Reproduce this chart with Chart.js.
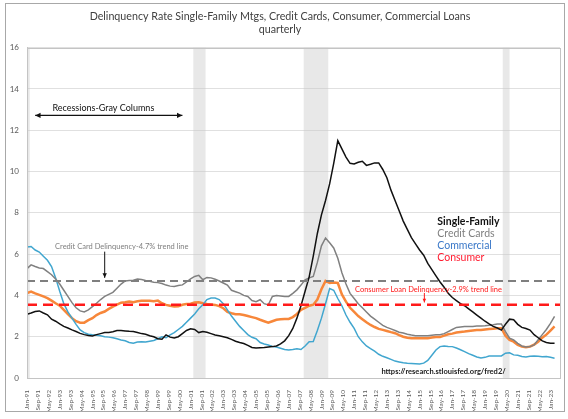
<!DOCTYPE html>
<html>
<head>
<meta charset="utf-8">
<script src="https://cdn.jsdelivr.net/npm/chart.js@4.4.0/dist/chart.umd.min.js"></script>
<style>
body { margin: 0; background: #fff; }
</style>
</head>
<body>
<canvas id="myChart" width="568" height="419"></canvas>
<script>
// LABELS DE L'AXE X (UN TOUS LES 8 MOIS, A PARTIR DE JAN-91)
var tickLabels = ["Jan-91", "Sep-91", "May-92", "Jan-93", "Sep-93", "May-94", "Jan-95", "Sep-95", "May-96",
    "Jan-97", "Sep-97", "May-98", "Jan-99", "Sep-99", "May-00", "Jan-01", "Sep-01", "May-02", "Jan-03",
    "Sep-03", "May-04", "Jan-05", "Sep-05", "May-06", "Jan-07", "Sep-07", "May-08", "Jan-09", "Sep-09",
    "May-10", "Jan-11", "Sep-11", "May-12", "Jan-13", "Sep-13", "May-14", "Jan-15", "Sep-15", "May-16",
    "Jan-17", "Sep-17", "May-18", "Jan-19", "Sep-19", "May-20", "Jan-21", "Sep-21", "May-22", "Jan-23"];

// SERIES TRIMESTRIELLES, Q1-1991 -> Q2-2023 (une ligne = une annee)
var singleFamily = [
    3.09, 3.15, 3.22, 3.25,
    3.15, 3.06, 2.85, 2.75,
    2.62, 2.5, 2.42, 2.33,
    2.25, 2.16, 2.1, 2.06,
    2.04, 2.1, 2.15, 2.2,
    2.2, 2.24, 2.3, 2.3,
    2.28, 2.26, 2.25, 2.2,
    2.15, 2.12, 2.05, 2.0,
    1.9, 1.88, 2.09, 1.98,
    1.94, 2.0, 2.15, 2.3,
    2.38, 2.35, 2.2, 2.25,
    2.22, 2.15, 2.08, 2.05,
    2.0, 1.95, 1.87, 1.78,
    1.72, 1.67, 1.58, 1.48,
    1.45, 1.47, 1.48, 1.5,
    1.52, 1.55, 1.65, 1.8,
    2.05, 2.4, 2.9, 3.5,
    4.2, 4.9, 5.9, 7.0,
    7.9, 8.6, 9.4, 10.4,
    11.5, 11.1, 10.7, 10.4,
    10.37, 10.45, 10.5, 10.3,
    10.35, 10.42, 10.42, 10.1,
    9.7, 9.1, 8.6, 8.1,
    7.6, 7.2, 6.8, 6.5,
    6.2, 5.95, 5.55, 5.25,
    4.95, 4.65, 4.4, 4.1,
    3.9, 3.75, 3.6, 3.5,
    3.35, 3.2, 3.05, 2.9,
    2.75, 2.62, 2.5, 2.42,
    2.32, 2.6, 2.85, 2.82,
    2.6, 2.45, 2.4, 2.32,
    2.1, 1.95, 1.8, 1.72,
    1.68, 1.68];

var creditCards = [
    5.3, 5.48, 5.4, 5.33,
    5.3, 5.15, 5.0, 4.8,
    4.55, 4.25, 3.95, 3.65,
    3.4, 3.25, 3.2, 3.3,
    3.46, 3.62, 3.8, 3.95,
    4.05, 4.15, 4.35, 4.55,
    4.7, 4.72, 4.74, 4.79,
    4.77, 4.72, 4.68, 4.64,
    4.62, 4.58, 4.5, 4.45,
    4.43, 4.48, 4.51, 4.65,
    4.8, 4.92, 4.97, 4.76,
    4.87, 4.85, 4.78, 4.7,
    4.6, 4.5, 4.25, 4.18,
    4.11, 4.0, 3.95, 3.75,
    3.7, 3.79, 3.6, 3.54,
    3.95, 3.99, 3.97, 3.95,
    3.95, 4.1, 4.27, 4.5,
    4.76, 4.85, 4.92, 5.6,
    6.4, 6.78, 6.55, 6.3,
    5.8, 5.1, 4.55, 4.1,
    3.85, 3.6, 3.4, 3.2,
    3.0, 2.85, 2.7, 2.55,
    2.45, 2.38, 2.3, 2.22,
    2.18, 2.12, 2.08, 2.05,
    2.05, 2.05, 2.05, 2.07,
    2.09, 2.1, 2.15, 2.25,
    2.35, 2.45, 2.47, 2.49,
    2.5, 2.5, 2.52, 2.52,
    2.53, 2.55, 2.58, 2.62,
    2.62, 2.25, 1.93, 1.84,
    1.68, 1.55, 1.5, 1.52,
    1.6, 1.85, 2.1, 2.35,
    2.65, 2.98];

var commercial = [
    6.35, 6.37, 6.2, 6.1,
    5.9, 5.7, 5.4, 4.85,
    4.2, 3.6, 3.2, 2.9,
    2.6, 2.33, 2.2, 2.12,
    2.09, 2.07, 2.05, 2.0,
    1.98, 1.95, 1.9, 1.84,
    1.8, 1.72, 1.68, 1.74,
    1.76, 1.74, 1.78, 1.82,
    1.9, 2.0, 1.95, 2.09,
    2.2, 2.35, 2.5, 2.7,
    2.9, 3.1, 3.35, 3.55,
    3.8, 3.87, 3.87, 3.8,
    3.6, 3.3, 3.0, 2.75,
    2.5, 2.3, 2.1, 1.97,
    1.9, 1.72, 1.65, 1.6,
    1.53, 1.5, 1.44, 1.38,
    1.36, 1.38, 1.42, 1.38,
    1.55, 1.76, 1.77, 2.3,
    2.9, 3.6, 4.33, 4.25,
    3.85, 3.5, 3.05, 2.7,
    2.4, 2.0, 1.75, 1.55,
    1.42, 1.3, 1.15, 1.05,
    0.98, 0.9, 0.82, 0.78,
    0.74, 0.71, 0.7, 0.69,
    0.68, 0.72, 0.85, 1.1,
    1.36, 1.52, 1.55, 1.53,
    1.52, 1.45, 1.37, 1.28,
    1.18, 1.1, 1.02, 0.97,
    1.0, 1.06, 1.07, 1.07,
    1.07, 1.2, 1.22, 1.12,
    1.1, 1.04, 1.02, 1.05,
    1.07, 1.05, 1.03, 1.04,
    1.0, 0.96];

var consumer = [
    4.11, 4.19, 4.1, 4.03,
    3.95, 3.87, 3.75, 3.62,
    3.5, 3.3, 3.1, 2.9,
    2.75, 2.68, 2.68, 2.8,
    2.9, 3.05, 3.15, 3.22,
    3.35, 3.46, 3.55, 3.65,
    3.67, 3.7, 3.67, 3.72,
    3.74, 3.74, 3.74, 3.72,
    3.75, 3.62, 3.54, 3.5,
    3.46, 3.48, 3.55, 3.58,
    3.6, 3.66, 3.67, 3.62,
    3.58, 3.56, 3.54, 3.48,
    3.38, 3.2, 3.14, 3.09,
    3.09, 3.05, 3.0, 2.95,
    2.9, 2.82, 2.75, 2.68,
    2.75, 2.82, 2.84, 2.86,
    2.86, 2.95, 3.1, 3.3,
    3.4, 3.5, 3.55, 3.8,
    4.3, 4.7, 4.6, 4.62,
    4.6, 4.05, 3.7, 3.4,
    3.2, 3.0, 2.85, 2.7,
    2.57, 2.47, 2.38, 2.33,
    2.28, 2.22, 2.17, 2.08,
    2.0, 1.95, 1.93, 1.93,
    1.93, 1.93, 1.93, 1.96,
    1.98, 1.98, 2.05, 2.12,
    2.15, 2.2, 2.23, 2.25,
    2.28, 2.3, 2.32, 2.33,
    2.35, 2.37, 2.39, 2.41,
    2.41, 2.05, 1.84, 1.76,
    1.6, 1.52, 1.49, 1.52,
    1.62, 1.75, 1.95, 2.1,
    2.3, 2.5];

// LIGNES DE TENDANCE (EN %)
var ccTrend = 4.7;
var consTrend = 3.55;

// RECESSIONS, EN MOIS DEPUIS JAN-91 (debut, fin)
var recessions = [[-6, 2], [122, 131], [203, 221], [349, 354]];

var lastMonth = 391;

// CHAQUE TRIMESTRE = 3 MOIS SUR L'AXE X
function toPoints(values) {
    var pts = [];
    for (var i = 0; i < values.length; i++) {
        pts.push({ x: i * 3, y: values[i] });
    }
    return pts;
}

function trendPoints(v) {
    return [{ x: 0, y: v }, { x: lastMonth, y: v }];
}

function arrow(ctx, x1, y1, x2, y2, size, both) {
    var ang = Math.atan2(y2 - y1, x2 - x1);
    ctx.beginPath();
    ctx.moveTo(x1, y1);
    ctx.lineTo(x2, y2);
    ctx.stroke();
    head(ctx, x2, y2, ang, size);
    if (both) head(ctx, x1, y1, ang + Math.PI, size);
}

function head(ctx, x, y, ang, size) {
    ctx.beginPath();
    ctx.moveTo(x, y);
    ctx.lineTo(x - size * Math.cos(ang - 0.45), y - size * Math.sin(ang - 0.45));
    ctx.lineTo(x - size * Math.cos(ang + 0.45), y - size * Math.sin(ang + 0.45));
    ctx.closePath();
    ctx.fill();
}

// PLUGIN : BANDES GRISES, TEXTES, FLECHES, CADRES
var decor = {
    id: 'decor',
    beforeDatasetsDraw: function(chart) {
        var ctx = chart.ctx, a = chart.chartArea, sx = chart.scales.x;
        ctx.save();
        ctx.fillStyle = 'rgba(200,200,200,0.42)';
        recessions.forEach(function(r) {
            var x1 = Math.max(a.left, sx.getPixelForValue(r[0]));
            var x2 = Math.min(a.right, sx.getPixelForValue(r[1]));
            ctx.fillRect(x1, a.top, x2 - x1, a.bottom - a.top);
        });
        ctx.restore();
    },
    afterDatasetsDraw: function(chart) {
        var ctx = chart.ctx, sx = chart.scales.x, sy = chart.scales.y;
        function px(m) { return sx.getPixelForValue(m); }
        function py(v) { return sy.getPixelForValue(v); }
        ctx.save();
        ctx.textBaseline = 'middle';

        // recessions
        ctx.fillStyle = '#111';
        ctx.strokeStyle = '#111';
        ctx.lineWidth = 1.2;
        ctx.textAlign = 'center';
        ctx.font = '9px Lato';
        ctx.fillText('Recessions-Gray Columns', px(56), py(13.05));
        arrow(ctx, px(6), py(12.72), px(114), py(12.72), 6, true);

        // credit card trend
        ctx.fillStyle = '#7f7f7f';
        ctx.font = '7.5px Lato';
        ctx.fillText('Credit Card Delinquency-4.7% trend line', px(69.5), py(6.36));
        ctx.fillStyle = '#111';
        ctx.strokeStyle = '#111';
        ctx.lineWidth = 1;
        arrow(ctx, px(57), py(6.12), px(57), py(4.85), 5, false);

        // consumer trend
        ctx.fillStyle = '#ff1a1a';
        ctx.strokeStyle = '#ff1a1a';
        ctx.fillText('Consumer Loan Delinquency-2.9% trend line', px(294.5), py(4.27));
        arrow(ctx, px(291.5), py(4.12), px(291.5), py(3.66), 4, false);

        // legende
        ctx.textAlign = 'left';
        ctx.font = 'bold 10.5px Lato';
        ctx.fillStyle = '#111';
        ctx.fillText('Single-Family', px(301), py(7.57));
        ctx.font = '10.5px Lato';
        ctx.fillStyle = '#7f7f7f';
        ctx.fillText('Credit Cards', px(301), py(6.99));
        ctx.fillStyle = '#3a78c8';
        ctx.fillText('Commercial', px(301), py(6.41));
        ctx.fillStyle = '#ff1a2e';
        ctx.fillText('Consumer', px(301), py(5.83));

        // source
        ctx.fillStyle = '#1a1a1a';
        ctx.font = 'bold 7.5px Lato';
        ctx.fillText('https://research.stlouisfed.org/fred2/', px(260), py(0.29));
        ctx.restore();
    },
    afterDraw: function(chart) {
        var ctx = chart.ctx, a = chart.chartArea;
        ctx.save();
        ctx.strokeStyle = '#c4c4c4';
        ctx.lineWidth = 1;
        ctx.strokeRect(Math.round(a.left) + 0.5, Math.round(a.top) + 0.5, Math.round(a.right - a.left), Math.round(a.bottom - a.top));
        ctx.strokeStyle = '#a8a8a8';
        ctx.strokeRect(5.5, 3.5, 559, 408);
        ctx.restore();
    }
};

new Chart(document.getElementById("myChart"), {
    type: 'line',
    data: {
        datasets: [{
            label: "Credit Card trend",
            data: trendPoints(ccTrend),
            borderColor: "#7f7f7f",
            borderWidth: 2,
            borderDash: [8, 5]
        }, {
            label: "Consumer trend",
            data: trendPoints(consTrend),
            borderColor: "#ff1a1a",
            borderWidth: 2.5,
            borderDash: [10, 6]
        }, {
            label: "Single-Family",
            data: toPoints(singleFamily),
            borderColor: "#111111",
            borderWidth: 1.5
        }, {
            label: "Credit Cards",
            data: toPoints(creditCards),
            borderColor: "#808080",
            borderWidth: 1.5
        }, {
            label: "Commercial",
            data: toPoints(commercial),
            borderColor: "#41a6cf",
            borderWidth: 1.5
        }, {
            label: "Consumer",
            data: toPoints(consumer),
            borderColor: "#f7873a",
            borderWidth: 2.5
        }]
    },
    options: {
        responsive: false,
        animation: false,
        elements: {
            point: { radius: 0 },
            line: { tension: 0 }
        },
        layout: {
            padding: { left: 0, right: 8, top: 0, bottom: 0 }
        },
        scales: {
            x: {
                type: 'linear',
                min: 0,
                max: lastMonth,
                afterFit: function(scale) { scale.height = 41; },
                afterBuildTicks: function(scale) {
                    scale.ticks = tickLabels.map(function(l, i) { return { value: i * 8 }; });
                },
                grid: { display: false },
                border: { display: true, color: '#c4c4c4' },
                ticks: {
                    autoSkip: false,
                    maxRotation: 90,
                    minRotation: 90,
                    padding: 4,
                    color: '#595959',
                    font: { family: 'Lato', size: 6.5 },
                    callback: function(v, i) { return tickLabels[i]; }
                }
            },
            y: {
                min: 0,
                max: 16,
                afterFit: function(scale) { scale.width = 27; },
                grid: { color: '#e0e0e0', drawTicks: false },
                border: { display: true, color: '#c4c4c4' },
                ticks: {
                    stepSize: 2,
                    padding: 8,
                    color: '#595959',
                    font: { family: 'Lato', size: 8 }
                }
            }
        },
        plugins: {
            legend: { display: false },
            tooltip: { enabled: false },
            title: {
                display: true,
                text: ['Delinquency Rate Single-Family Mtgs, Credit Cards, Consumer, Commercial Loans', 'quarterly'],
                color: '#404040',
                font: { family: 'Lato', size: 10.7, weight: 'normal', lineHeight: 1.2 },
                padding: { top: 10, bottom: 12 }
            }
        }
    },
    plugins: [decor]
});
</script>
</body>
</html>
